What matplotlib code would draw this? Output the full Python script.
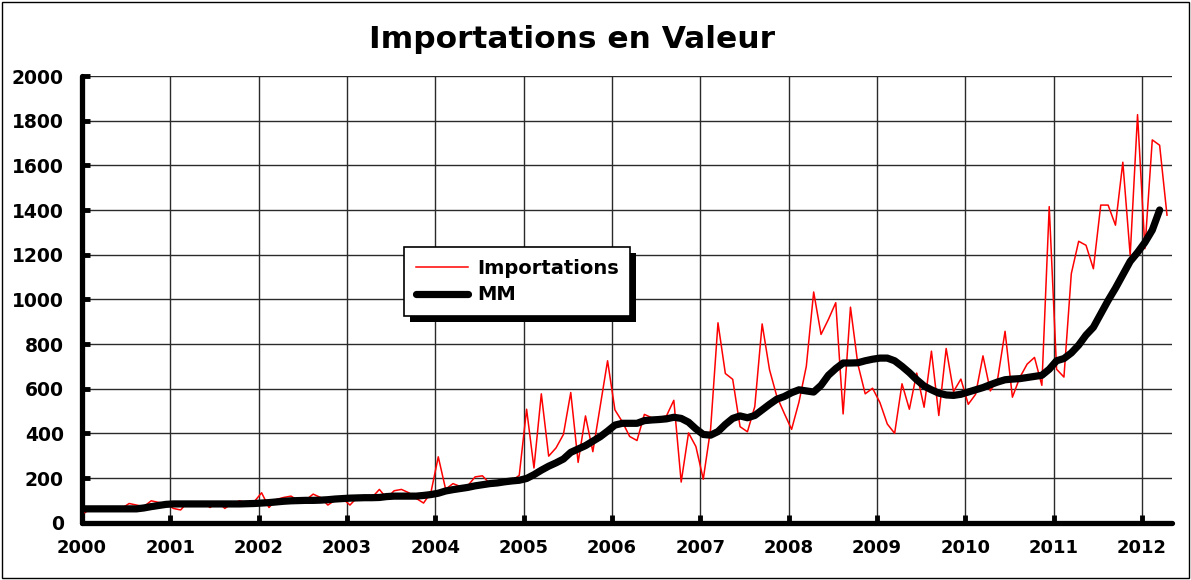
import matplotlib
matplotlib.use('Agg')
import matplotlib.pyplot as plt
from matplotlib.patches import Rectangle
from matplotlib.transforms import IdentityTransform

# ---- data (monthly, Jan 2000 -> Apr 2012) ----
years = list(range(2000, 2013))
y_ticks = list(range(0, 2001, 200))

imp_2000 = [45, 68, 72, 67, 72, 64, 86, 79, 72, 98, 91, 86]
imp_2001 = [64, 57, 94, 89, 94, 68, 94, 64, 86, 98, 89, 94]
imp_2002 = [134, 68, 104, 113, 119, 98, 101, 128, 113, 79, 101, 109]
imp_2003 = [79, 113, 119, 113, 149, 109, 143, 149, 134, 109, 88, 135]
imp_2004 = [295, 150, 175, 162, 165, 205, 210, 175, 178, 182, 188, 212]
imp_2005 = [508, 245, 577, 298, 335, 395, 583, 270, 478, 318, 520, 725]
imp_2006 = [505, 452, 386, 368, 485, 470, 470, 478, 548, 182, 402, 341]
imp_2007 = [195, 420, 895, 668, 642, 430, 407, 520, 890, 685, 565, 490]
imp_2008 = [418, 540, 700, 1033, 843, 910, 985, 487, 965, 710, 577, 602]
imp_2009 = [538, 442, 400, 622, 508, 670, 517, 768, 480, 780, 587, 643]
imp_2010 = [530, 575, 747, 590, 645, 857, 562, 650, 710, 740, 615, 1415]
imp_2011 = [687, 652, 1115, 1260, 1242, 1137, 1422, 1422, 1332, 1614, 1197, 1827]
imp_2012 = [1227, 1714, 1690, 1377]

mm_2000 = [62, 62, 62, 62, 62, 62, 62, 62, 66, 72, 77, 82]
mm_2001 = [84, 84, 84, 84, 84, 84, 84, 84, 84, 84, 85, 86]
mm_2002 = [88, 90, 93, 96, 98, 99, 100, 100, 101, 103, 106, 108]
mm_2003 = [110, 111, 112, 112, 113, 117, 119, 119, 119, 119, 122, 126]
mm_2004 = [132, 142, 148, 153, 158, 165, 170, 175, 178, 183, 187, 190]
mm_2005 = [198, 215, 235, 253, 268, 285, 315, 330, 345, 365, 385, 410]
mm_2006 = [437, 445, 445, 445, 457, 460, 462, 465, 472, 467, 450, 420]
mm_2007 = [395, 392, 408, 440, 467, 478, 470, 480, 505, 530, 553, 565]
mm_2008 = [582, 595, 590, 585, 615, 660, 690, 715, 715, 716, 725, 732]
mm_2009 = [737, 737, 725, 700, 672, 640, 612, 595, 580, 572, 570, 575]
mm_2010 = [585, 595, 605, 618, 630, 640, 643, 645, 650, 655, 660, 687]
mm_2011 = [725, 735, 760, 795, 840, 875, 935, 995, 1050, 1110, 1170, 1210]
mm_2012 = [1255, 1310, 1400]

importations = (imp_2000 + imp_2001 + imp_2002 + imp_2003 + imp_2004 + imp_2005 +
                imp_2006 + imp_2007 + imp_2008 + imp_2009 + imp_2010 + imp_2011 + imp_2012)
mm = (mm_2000 + mm_2001 + mm_2002 + mm_2003 + mm_2004 + mm_2005 +
      mm_2006 + mm_2007 + mm_2008 + mm_2009 + mm_2010 + mm_2011 + mm_2012)

x_imp = [2000 + (i + 0.4) / 12 for i in range(len(importations))]
x_mm = [2000 + (i + 0.4) / 12 for i in range(len(mm))]

plt.rcParams['font.family'] = ['DejaVu Sans']

W, H = 1191, 580
fig = plt.figure(figsize=(W / 100, H / 100), dpi=100)
ax_l, ax_r, ax_b, ax_t = 82, 1172, 522.7, 76
ax = fig.add_axes([ax_l / W, 1 - ax_b / H, (ax_r - ax_l) / W, (ax_b - ax_t) / H])

ax.plot(x_imp, importations, color='#ff0000', lw=1.1, label='Importations', zorder=3)
ax.plot(x_mm, mm, color='black', lw=5.2, solid_capstyle='round',
        solid_joinstyle='round', label='MM', zorder=4)

ax.set_xlim(2000, 2012.34)
ax.set_ylim(0, 2000)
ax.set_xticks(years)
ax.set_yticks(y_ticks)
ax.grid(True, color='#2a2a2a', lw=1.0)
ax.set_axisbelow(True)
for s in ['top', 'right']:
    ax.spines[s].set_visible(False)
for s in ['left', 'bottom']:
    ax.spines[s].set_linewidth(3.8)
    ax.spines[s].set_capstyle('round')
ax.tick_params(direction='in', length=6, width=3.5, labelsize=13, pad=12)
ax.tick_params(axis='y', labelsize=13.5, pad=13)
for lbl in ax.get_xticklabels() + ax.get_yticklabels():
    lbl.set_fontweight('bold')

fig.text(572 / W, 1 - 39 / H, 'Importations en Valeur', ha='center', va='center',
         fontsize=22.5, fontweight='bold')

leg = ax.legend(loc='upper left', bbox_to_anchor=(404 / W, 1 - 247 / H),
                bbox_transform=fig.transFigure, borderaxespad=0,
                prop={'weight': 'bold', 'size': 14}, frameon=True, fancybox=False,
                edgecolor='black', framealpha=1, handlelength=2.7,
                handletextpad=0.45, borderpad=0.6, labelspacing=0.4)
leg.get_frame().set_linewidth(1.2)
leg.set_zorder(6)

fig.canvas.draw()
bb = leg.legendPatch.get_window_extent(fig.canvas.get_renderer())
shadow = Rectangle((bb.x0 + 6, bb.y0 - 6), bb.width, bb.height,
                   transform=IdentityTransform(), facecolor='black',
                   edgecolor='none', zorder=5.5, clip_on=False)
ax.add_artist(shadow)
shadow.set_clip_path(None)

fig.patches.append(Rectangle((0.0015, 0.003), 0.997, 0.994, transform=fig.transFigure,
                             fill=False, edgecolor='black', lw=1.0))

fig.savefig('out.png', dpi=100)
